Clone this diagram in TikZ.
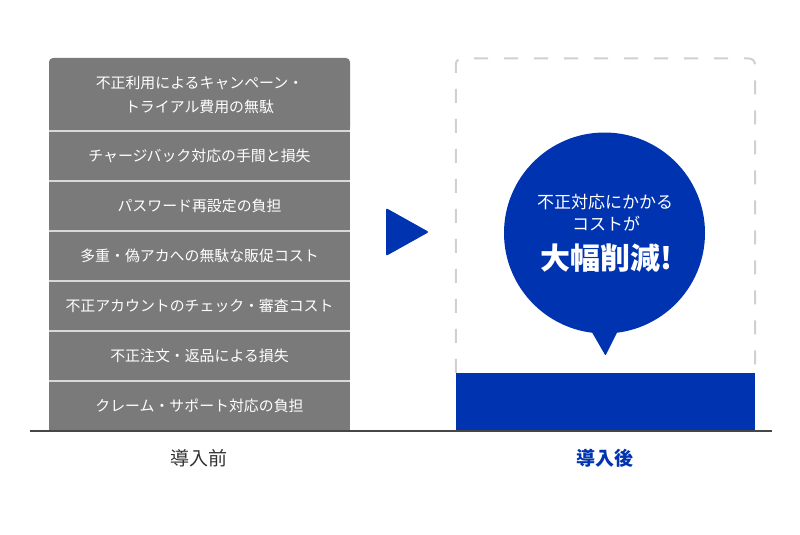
\documentclass[tikz,border=0pt]{standalone}
\usepackage{fontspec}
\setmainfont{Noto Sans CJK JP}
\usetikzlibrary{positioning,calc}
\definecolor{rowgray}{RGB}{122,122,122}
\definecolor{sepgray}{RGB}{216,216,216}
\definecolor{dashgray}{RGB}{208,208,208}
\definecolor{cutblue}{RGB}{0,51,176}
\definecolor{axisgray}{RGB}{70,70,70}
\definecolor{labelgray}{RGB}{51,51,51}

\begin{document}
\begin{tikzpicture}[x=1pt, y=-1pt,
    costrow/.style={rectangle, fill=rowgray, minimum width=301pt, minimum height=50pt, inner sep=0pt, text=white, align=center, font=\fontsize{14.9}{24}\selectfont},
    separator/.style={sepgray, line width=2pt},
    stagelabel/.style={font=\fontsize{19}{22}\selectfont},
    bubbletext/.style={text=white, font=\fontsize{17}{21}\selectfont},
    cutshape/.style={fill=cutblue, inner sep=0pt}
]
\useasboundingbox (0,0) rectangle (800,535);

% Before: stacked cost items
\node[costrow, minimum height=73pt, rounded corners=4pt] (r1) at (199.5,94.5) {不正利用によるキャンペーン・\\トライアル費用の無駄};
\fill[rowgray] (r1.south west) rectangle ([yshift=8pt]r1.south east);
\node[costrow] (r2) at (199.5,156) {チャージバック対応の手間と損失};
\node[costrow] (r3) at (199.5,206) {パスワード再設定の負担};
\node[costrow] (r4) at (199.5,256) {多重・偽アカへの無駄な販促コスト};
\node[costrow] (r5) at (199.5,306) {不正アカウントのチェック・審査コスト};
\node[costrow] (r6) at (199.5,356) {不正注文・返品による損失};
\node[costrow] (r7) at (199.5,406) {クレーム・サポート対応の負担};

% Separators between rows
\foreach \r in {r1,r2,r3,r4,r5,r6} {
    \draw[separator] (\r.south west) -- (\r.south east);
}

% Arrow
\fill[cutblue, rounded corners=2pt] (386,208) -- (429,232) -- (386,256) -- cycle;

% After: remaining cost and dashed frame
\node[cutshape, rectangle, minimum width=299pt, minimum height=58pt] (afterbar) at (605.5,402) {};
\coordinate (frametop) at (755,58.5);
\draw[dashgray, line width=2pt, dash pattern=on 14pt off 16pt, rounded corners=6pt] (afterbar.north west) |- (frametop) -- (afterbar.north east);

% Speech bubble
\node[cutshape, circle, minimum size=201pt] (bubble) at (604.5,233) {};
\fill[cutblue, rounded corners=1pt] ([xshift=-14pt,yshift=4pt]bubble.south) -- ([xshift=1pt,yshift=-22pt]bubble.south) -- ([xshift=14pt,yshift=4pt]bubble.south) -- cycle;
\node[bubbletext] (cut1) at (605,202) {不正対応にかかる};
\node[bubbletext] (cut2) at (606,224) {コストが};
\node[bubbletext, font=\fontsize{30}{34}\selectfont\bfseries] (cut3) at (606,258) {大幅削減!};

% Baseline
\coordinate (axisleft) at (30,431);
\coordinate (axisright) at (772,431);
\draw[axisgray, line width=1.5pt] (axisleft) -- (axisright);

% Stage labels
\node[stagelabel, text=labelgray] (before) at (199,458) {導入前};
\node[stagelabel, text=cutblue, font=\fontsize{19}{22}\selectfont\bfseries] (after) at (605,458) {導入後};

\end{tikzpicture}
\end{document}
